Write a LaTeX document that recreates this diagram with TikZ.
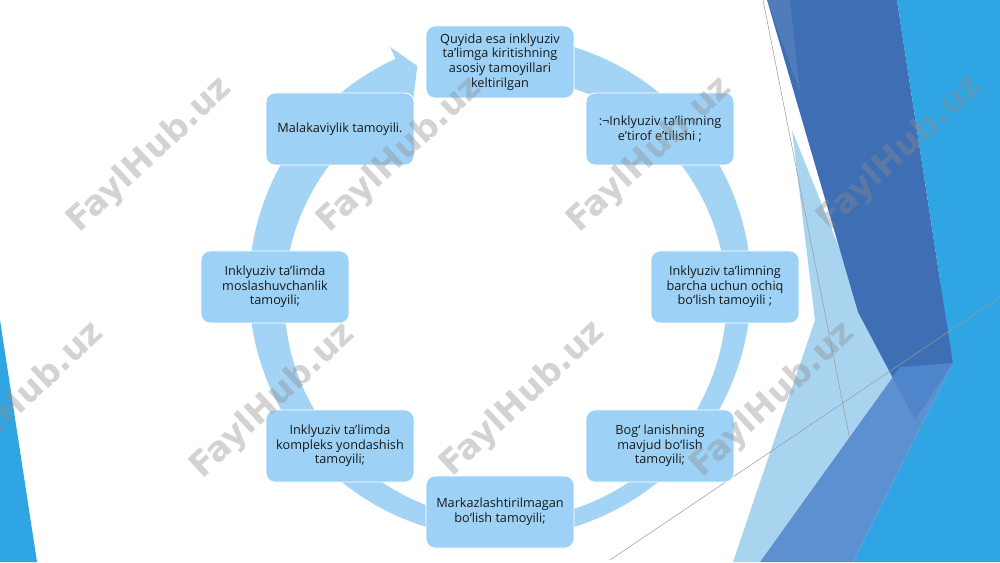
\documentclass[tikz,border=0pt]{standalone}
\usepackage{fontspec}
\setmainfont{Open Sans}
\newfontfamily\wmfont{DejaVu Sans}
\definecolor{ringblue}{RGB}{164,212,245}
\definecolor{nodeblue}{RGB}{157,210,246}
\definecolor{darkfacet}{RGB}{62,110,180}
\definecolor{brightfacet}{RGB}{48,165,228}
\definecolor{midfacet}{RGB}{80,135,205}
\definecolor{lightfacet}{RGB}{168,212,240}
\definecolor{txt}{RGB}{25,25,25}
\tikzset{
  stepnode/.style={draw=white, line width=0.8pt, fill=nodeblue, rounded corners=9pt,
    minimum width=148pt, minimum height=72pt, align=center, text=txt,
    font=\fontsize{12.7}{14.7}\selectfont, inner sep=1pt},
  watermark/.style={rotate=43, text=black!45, text opacity=0.38,
    font=\wmfont\bfseries\fontsize{34}{34}\selectfont},
  thinline/.style={draw=black!40, line width=0.5pt}
}
\begin{document}
\begin{tikzpicture}[x=1pt,y=1pt]
\useasboundingbox (0,0) rectangle (1000,562);
\fill[white] (0,0) rectangle (1000,562);
% background facets
\fill[lightfacet] (792,432) -- (860,262) -- (900,195) -- (760,0) -- (733,0) -- (815,242) -- cycle;
\fill[darkfacet] (767,562) -- (897,562) -- (940,282) -- (955,202) -- (915,142) -- (858,250) -- cycle;
\fill[white, opacity=0.1] (767,562) -- (790,562) -- (800,470) -- cycle;
\fill[midfacet, opacity=0.92] (760,0) -- (900,195) -- (953,199) -- (853,0) -- cycle;
\fill[brightfacet] (897,562) -- (1000,562) -- (1000,0) -- (853,0) -- (953,199) -- (940,282) -- cycle;
\fill[brightfacet] (0,242) -- (0,0) -- (37,0) -- cycle;
\coordinate (l1a) at (763,562); \coordinate (l1b) at (850,122);
\coordinate (l2a) at (610,2); \coordinate (l2b) at (1000,265);
\draw[thinline] (l1a) -- (l1b);
\draw[thinline] (l2a) -- (l2b);
% ring with arrow
\begin{scope}[shift={(500,275)}]
\fill[ringblue] (75:251pt) arc[start angle=75, end angle=-245.4, radius=251pt]
  -- (-245.4:264pt) -- (-249.5:236pt) -- (-245.4:208pt)
  arc[start angle=-245.4, end angle=75, radius=221pt] -- cycle;
\end{scope}
% nodes
\node[stepnode] (n1) at (500,500) {Quyida esa inklyuziv\\ta’limga kiritishning\\asosiy tamoyillari\\keltirilgan};
\node[stepnode] (n2) at (660,433) {:¬Inklyuziv ta’limning\\e’tirof e’tilishi ;};
\node[stepnode] (n3) at (725,275) {Inklyuziv ta’limning\\barcha uchun ochiq\\bo‘lish tamoyili ;};
\node[stepnode] (n4) at (660,116) {Bog‘ lanishning\\mavjud bo‘lish\\tamoyili;};
\node[stepnode] (n5) at (500,50) {Markazlashtirilmagan\\bo‘lish tamoyili;};
\node[stepnode] (n6) at (340,116) {Inklyuziv ta’limda\\kompleks yondashish\\tamoyili;};
\node[stepnode] (n7) at (275,275) {Inklyuziv ta’limda\\moslashuvchanlik\\tamoyili;};
\node[stepnode] (n8) at (340,433) {Malakaviylik tamoyili.};
% watermarks
\node[watermark] (w1) at (150,407) {FaylHub.uz};
\node[watermark] (w2) at (400,407) {FaylHub.uz};
\node[watermark] (w3) at (650,407) {FaylHub.uz};
\node[watermark] (w4) at (900,409) {FaylHub.uz};
\node[watermark] (w5) at (22,162) {FaylHub.uz};
\node[watermark] (w6) at (273,161) {FaylHub.uz};
\node[watermark] (w7) at (523,163) {FaylHub.uz};
\node[watermark] (w8) at (773,162) {FaylHub.uz};
\end{tikzpicture}
\end{document}
